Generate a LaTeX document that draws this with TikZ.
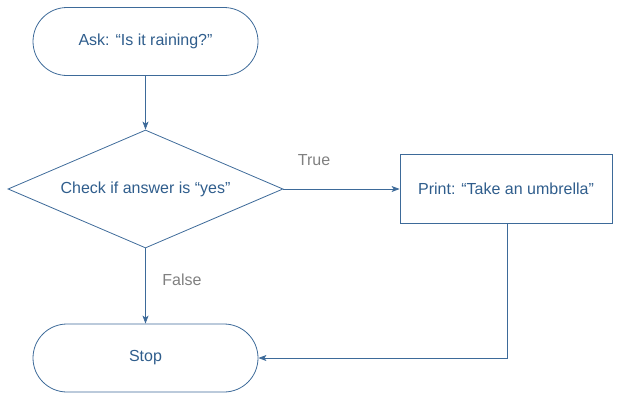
\documentclass[tikz,border=0pt]{standalone}
\usepackage{fontspec}
\setmainfont{Liberation Sans}
\usetikzlibrary{shapes.geometric,shapes.misc,arrows.meta,calc}
\definecolor{strokeblue}{HTML}{3D6A99}
\definecolor{textblue}{HTML}{2F5D8C}
\definecolor{labelgray}{HTML}{808080}
\begin{document}
\begin{tikzpicture}[x=1pt,y=-1pt,
  every node/.style={font=\fontsize{16}{19}\selectfont, text=textblue},
  terminal/.style={draw=strokeblue, line width=0.8pt, rounded rectangle, minimum width=225pt, minimum height=68pt, inner sep=0pt},
  decision/.style={draw=strokeblue, line width=0.8pt, diamond, minimum width=275pt, minimum height=118pt, inner sep=0pt, aspect=2.33},
  process/.style={draw=strokeblue, line width=0.8pt, rectangle, minimum width=212pt, minimum height=69pt, inner sep=0pt},
  conn/.style={draw=strokeblue, line width=0.8pt, -{Stealth[length=8pt,width=6pt,inset=2pt]}},
  edgelabel/.style={text=labelgray, font=\fontsize{16}{19}\selectfont}
]
\useasboundingbox (0,0) rectangle (620,402);
\node[terminal] (ask) at (145.5,41.5) {Ask: “Is it raining?”};
\node[decision] (check) at (145.5,189) {Check if answer is “yes”};
\node[process] (print) at (506,189) {Print: “Take an umbrella”};
\node[terminal] (stop) at (145.5,358) {Stop};
\coordinate (corner) at (507,358);
\draw[conn] (ask.south) -- (check.north);
\draw[conn] (check.east) -- (print.west);
\draw[conn] (check.south) -- (stop.north);
\draw[conn] (print.south -| corner) -- (corner) -- (stop.east);
\node[edgelabel] (truelbl) at (314,160) {True};
\node[edgelabel] (falselbl) at (182,280) {False};
\end{tikzpicture}
\end{document}
